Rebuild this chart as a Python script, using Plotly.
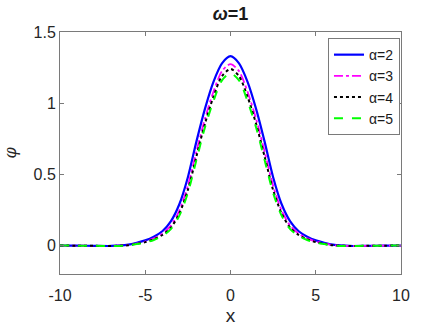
import plotly.graph_objects as go

# sampled x positions
x = [-10, -9, -8, -7, -6, -5.5, -5, -4.5, -4, -3.5, -3, -2.5, -2, -1.5, -1, -0.5,
     0, 0.5, 1, 1.5, 2, 2.5, 3, 3.5, 4, 4.5, 5, 5.5, 6, 7, 8, 9, 10]

# curve values
phi_a2 = [0, -0.001, -0.002, -0.003, 0.006, 0.019, 0.036, 0.062, 0.10, 0.17, 0.29, 0.48, 0.73, 0.96, 1.15, 1.28,
          1.33, 1.28, 1.15, 0.96, 0.73, 0.48, 0.29, 0.17, 0.10, 0.062, 0.036, 0.019, 0.006, -0.003, -0.002, -0.001, 0]
phi_a3 = [0, -0.001, -0.002, -0.003, 0.003, 0.014, 0.028, 0.05, 0.083, 0.14, 0.245, 0.42, 0.66, 0.89, 1.08, 1.225,
          1.275, 1.225, 1.08, 0.89, 0.66, 0.42, 0.245, 0.14, 0.083, 0.05, 0.028, 0.014, 0.003, -0.003, -0.002, -0.001, 0]
phi_a4 = [0, -0.001, -0.002, -0.003, 0.002, 0.012, 0.024, 0.044, 0.074, 0.125, 0.225, 0.39, 0.625, 0.855, 1.045, 1.19,
          1.24, 1.19, 1.045, 0.855, 0.625, 0.39, 0.225, 0.125, 0.074, 0.044, 0.024, 0.012, 0.002, -0.003, -0.002, -0.001, 0]
phi_a5 = [0, -0.001, -0.002, -0.003, 0.001, 0.010, 0.021, 0.039, 0.067, 0.115, 0.21, 0.37, 0.60, 0.83, 1.015, 1.16,
          1.21, 1.16, 1.015, 0.83, 0.60, 0.37, 0.21, 0.115, 0.067, 0.039, 0.021, 0.010, 0.001, -0.003, -0.002, -0.001, 0]

x_ticks = [-10, -5, 0, 5, 10]
x_ticklabels = ["-10", "-5", "0", "5", "10"]
y_ticks = [0, 0.5, 1, 1.5]
y_ticklabels = ["0", "0.5", "1", "1.5"]

names = ["α=2", "α=3", "α=4", "α=5"]
series = [phi_a2, phi_a3, phi_a4, phi_a5]
colors = ["#0000ff", "#ff00ff", "#000000", "#00ff00"]
dashes = ["solid", "dashdot", "dot", "dash"]
widths = [2.2, 1.8, 2.0, 2.0]

fig = go.Figure()
for n, y, c, d, w in zip(names, series, colors, dashes, widths):
    fig.add_trace(go.Scatter(x=x, y=y, mode="lines", name=n,
                             line=dict(color=c, dash=d, width=w, shape="spline", smoothing=0.8)))

axcol = "#7a7a7a"
fig.update_layout(
    width=443, height=332,
    margin=dict(l=60, r=42, t=32, b=58, autoexpand=False),
    paper_bgcolor="white", plot_bgcolor="white",
    font=dict(family="Liberation Sans, Arial", size=16, color="#262626"),
    title=dict(text="<b><i>ω</i>=1</b>", x=0.5, xref="paper", xanchor="center",
               y=1 - 14 / 332, yanchor="middle", font=dict(size=18, color="#1a1a1a")),
    xaxis=dict(range=[-10, 10], tickvals=x_ticks, ticktext=x_ticklabels, ticks="inside", ticklen=4,
               tickcolor=axcol, showline=True, linecolor=axcol, linewidth=1, mirror="ticks",
               showgrid=False, zeroline=False, automargin=False, ticklabelstandoff=7,
               title=dict(text="x", standoff=5)),
    yaxis=dict(range=[-0.2, 1.5], tickvals=y_ticks, ticktext=y_ticklabels, ticks="inside", ticklen=4,
               tickcolor=axcol, showline=True, linecolor=axcol, linewidth=1, mirror="ticks",
               showgrid=False, zeroline=False, automargin=False,
               title=dict(text="<i>φ</i>", standoff=12, font=dict(family="DejaVu Serif", size=16))),
    legend=dict(x=0.997, y=0.975, xanchor="right", yanchor="top", bgcolor="white",
                bordercolor=axcol, borderwidth=1, font=dict(size=14, color="#1a1a1a"),
                tracegroupgap=0, itemwidth=30),
    showlegend=True,
)

fig.write_html("out.html", config={"displayModeBar": False},
               post_script="document.body.style.margin='0';")
